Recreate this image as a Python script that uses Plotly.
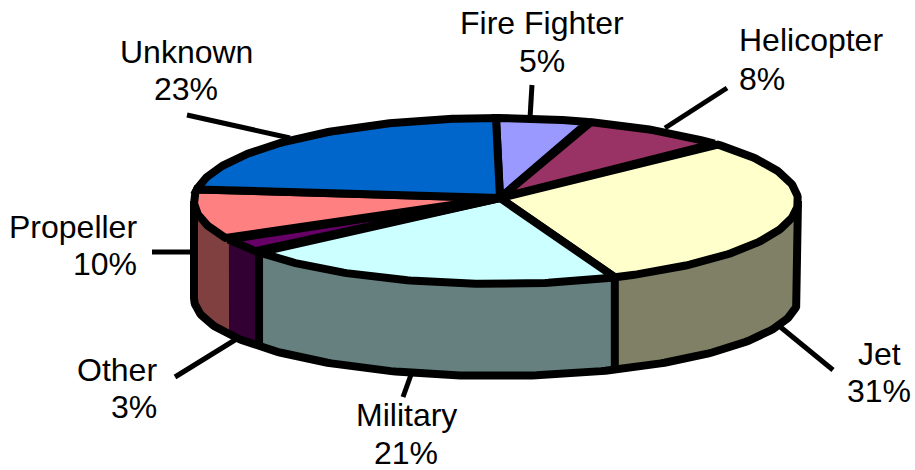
import numpy as np
import plotly.graph_objects as go

categories = ["Fire Fighter", "Helicopter", "Jet", "Military", "Other", "Propeller", "Unknown"]
values = [5, 8, 31, 21, 3, 10, 23]
top_colors = ["#9999FF", "#993366", "#FFFFCC", "#CCFFFF", "#660066", "#FF8080", "#0066CC"]
side_colors = ["#4D4D80", "#4D1A33", "#808066", "#668080", "#330033", "#804040", "#003366"]

# geometry of the tilted disc (axis units equal page pixels)
CX, CY, RX, RY = 496, 201, 302, 83
APEX = (500, 198)
BCY, BRY = 298, 78
EDGE = 8

# annotation layout: x, y of name line, y of percent line, x anchor
label_pos = {
    "Fire Fighter": (542, 23, 61, "center"),
    "Helicopter": (737, 40, 79, "left"),
    "Jet": (879, 354, 391, "center"),
    "Military": (406, 415, 453, "center"),
    "Other": (159, 370, 407, "right"),
    "Propeller": (139, 227, 264, "right"),
    "Unknown": (186, 52, 89, "center"),
}
leaders = [
    (532, 85, 530, 118), (727, 88, 665, 128), (778, 325, 833, 370),
    (412, 372, 403, 397), (243, 335, 175, 377), (195, 252, 152, 252),
    (290, 138, 187, 115),
]


def top_pt(deg):
    t = np.radians(deg)
    return CX + RX * np.sin(t), CY - RY * np.cos(t)


def bot_pt(deg):
    t = np.radians(deg)
    return CX + RX * np.sin(t), BCY - BRY * np.cos(t)


fractions = np.cumsum([0] + values) / sum(values) * 360
fig = go.Figure()

# side wall fills
for i, name in enumerate(categories):
    a, b = max(fractions[i], 90), min(fractions[i + 1], 270)
    if b <= a:
        continue
    th = np.linspace(a, b, 80)
    tx, ty = top_pt(th)
    bx, by = bot_pt(th[::-1])
    fig.add_trace(go.Scatter(x=np.r_[tx, bx, tx[0]], y=np.r_[ty, by, ty[0]], mode="lines",
                             fill="toself", fillcolor=side_colors[i],
                             line=dict(color=side_colors[i], width=1), hoverinfo="skip"))

# side wall outline and heavy dividers
th = np.linspace(90, 270, 200)
tx, ty = top_pt(th)
bx, by = bot_pt(th)
fig.add_trace(go.Scatter(x=np.r_[tx[0], bx, tx[-1]], y=np.r_[ty[0], by, ty[-1]], mode="lines",
                         line=dict(color="black", width=EDGE), hoverinfo="skip"))
for i in (3, 4):
    px, py = top_pt(fractions[i])
    qx, qy = bot_pt(fractions[i])
    fig.add_trace(go.Scatter(x=[px, qx], y=[py, qy], mode="lines",
                             line=dict(color="black", width=EDGE), hoverinfo="skip"))

# top wedges
for i, name in enumerate(categories):
    th = np.linspace(fractions[i], fractions[i + 1], 120)
    ax, ay = top_pt(th)
    fig.add_trace(go.Scatter(x=np.r_[APEX[0], ax, APEX[0]], y=np.r_[APEX[1], ay, APEX[1]], mode="lines",
                             fill="toself", fillcolor=top_colors[i], name=name,
                             line=dict(color="black", width=EDGE), hoverinfo="skip"))

shapes = [dict(type="line", x0=a, y0=b, x1=c, y1=d, layer="below",
               line=dict(color="black", width=5)) for a, b, c, d in leaders]

annotations = []
font = dict(family="Liberation Sans, Arial, sans-serif", size=32, color="#000000")
for name, v in zip(categories, values):
    x, y1, y2, xa = label_pos[name]
    annotations.append(dict(x=x, y=y1, text=name, showarrow=False, xanchor=xa, yanchor="middle", font=font))
    annotations.append(dict(x=x, y=y2, text=f"{v}%", showarrow=False, xanchor=xa, yanchor="middle", font=font))

fig.update_layout(
    width=915, height=470, margin=dict(l=0, r=0, t=0, b=0), showlegend=False,
    paper_bgcolor="white", plot_bgcolor="white", shapes=shapes, annotations=annotations,
    xaxis=dict(range=[0, 915], visible=False, fixedrange=True),
    yaxis=dict(range=[470, 0], visible=False, fixedrange=True),
)
fig.write_html("out.html", config={"displayModeBar": False},
               post_script="document.body.style.margin='0';document.body.style.overflow='hidden';")
